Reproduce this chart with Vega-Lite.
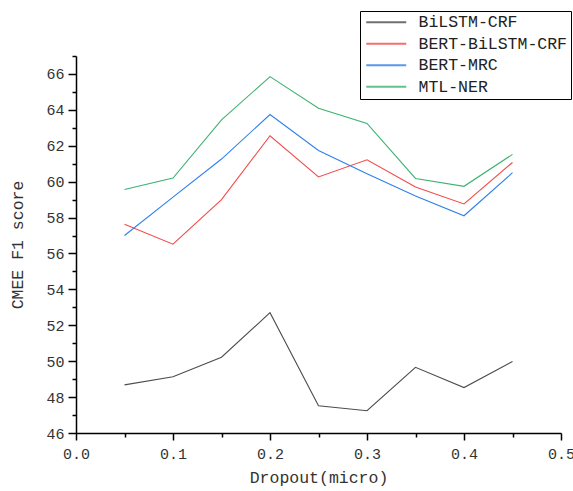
{
  "$schema": "https://vega.github.io/schema/vega-lite/v6.json",
  "width": 485,
  "height": 377,
  "autosize": {"type": "none"},
  "padding": {"left": 76, "top": 56, "right": 12, "bottom": 58},
  "background": "white",
  "config": {
    "view": {"stroke": null},
    "font": "Liberation Mono",
    "axis": {"grid": false, "domainColor": "#000", "domainWidth": 1.5, "tickColor": "#000", "tickWidth": 1.5, "labelColor": "#333", "titleColor": "#333", "labelFont": "Liberation Mono", "titleFont": "Liberation Mono", "labelFontSize": 15, "titleFontSize": 16.5, "titleFontWeight": "normal"}
  },
  "data": {"values": [
    {"model": "BiLSTM-CRF", "dropout": 0.05, "f1": 48.68},
    {"model": "BiLSTM-CRF", "dropout": 0.10, "f1": 49.13},
    {"model": "BiLSTM-CRF", "dropout": 0.15, "f1": 50.22},
    {"model": "BiLSTM-CRF", "dropout": 0.20, "f1": 52.70},
    {"model": "BiLSTM-CRF", "dropout": 0.25, "f1": 47.52},
    {"model": "BiLSTM-CRF", "dropout": 0.30, "f1": 47.24},
    {"model": "BiLSTM-CRF", "dropout": 0.35, "f1": 49.66},
    {"model": "BiLSTM-CRF", "dropout": 0.40, "f1": 48.53},
    {"model": "BiLSTM-CRF", "dropout": 0.45, "f1": 49.98},
    {"model": "BERT-BiLSTM-CRF", "dropout": 0.05, "f1": 57.63},
    {"model": "BERT-BiLSTM-CRF", "dropout": 0.10, "f1": 56.52},
    {"model": "BERT-BiLSTM-CRF", "dropout": 0.15, "f1": 59.00},
    {"model": "BERT-BiLSTM-CRF", "dropout": 0.20, "f1": 62.56},
    {"model": "BERT-BiLSTM-CRF", "dropout": 0.25, "f1": 60.26},
    {"model": "BERT-BiLSTM-CRF", "dropout": 0.30, "f1": 61.22},
    {"model": "BERT-BiLSTM-CRF", "dropout": 0.35, "f1": 59.70},
    {"model": "BERT-BiLSTM-CRF", "dropout": 0.40, "f1": 58.76},
    {"model": "BERT-BiLSTM-CRF", "dropout": 0.45, "f1": 61.07},
    {"model": "BERT-MRC", "dropout": 0.05, "f1": 57.00},
    {"model": "BERT-MRC", "dropout": 0.10, "f1": 59.14},
    {"model": "BERT-MRC", "dropout": 0.15, "f1": 61.26},
    {"model": "BERT-MRC", "dropout": 0.20, "f1": 63.74},
    {"model": "BERT-MRC", "dropout": 0.25, "f1": 61.74},
    {"model": "BERT-MRC", "dropout": 0.30, "f1": 60.44},
    {"model": "BERT-MRC", "dropout": 0.35, "f1": 59.20},
    {"model": "BERT-MRC", "dropout": 0.40, "f1": 58.10},
    {"model": "BERT-MRC", "dropout": 0.45, "f1": 60.50},
    {"model": "MTL-NER", "dropout": 0.05, "f1": 59.56},
    {"model": "MTL-NER", "dropout": 0.10, "f1": 60.20},
    {"model": "MTL-NER", "dropout": 0.15, "f1": 63.44},
    {"model": "MTL-NER", "dropout": 0.20, "f1": 65.85},
    {"model": "MTL-NER", "dropout": 0.25, "f1": 64.09},
    {"model": "MTL-NER", "dropout": 0.30, "f1": 63.24},
    {"model": "MTL-NER", "dropout": 0.35, "f1": 60.18},
    {"model": "MTL-NER", "dropout": 0.40, "f1": 59.74},
    {"model": "MTL-NER", "dropout": 0.45, "f1": 61.52}
  ]},
  "layer": [
    {
      "mark": {"type": "line", "strokeWidth": 1.1},
      "encoding": {
        "x": {"field": "dropout", "type": "quantitative", "scale": {"domain": [0, 0.5], "nice": false, "zero": false},
          "axis": {"orient": "bottom", "values": [0, 0.1, 0.2, 0.3, 0.4, 0.5], "format": ".1f", "tickSize": 7, "labelPadding": 6, "title": "Dropout(micro)", "titlePadding": 8, "labelFlush": false}},
        "y": {"field": "f1", "type": "quantitative", "scale": {"domain": [46, 67], "nice": false, "zero": false},
          "axis": {"orient": "left", "values": [46, 48, 50, 52, 54, 56, 58, 60, 62, 64, 66], "tickSize": 8, "labelPadding": 4, "title": "CMEE F1 score", "titlePadding": 20, "labelFlush": false}},
        "color": {"field": "model", "type": "nominal",
          "scale": {"domain": ["BiLSTM-CRF", "BERT-BiLSTM-CRF", "BERT-MRC", "MTL-NER"], "range": ["#4d4d4d", "#f44a4a", "#2f80ed", "#3cb371"]},
          "legend": {"title": null, "orient": "none", "legendX": 284, "legendY": -45, "strokeColor": "#000", "fillColor": "white", "padding": 3, "symbolType": "M-1,0H7", "symbolSize": 100, "symbolStrokeWidth": 2, "symbolOpacity": 0.8, "labelFont": "Liberation Mono", "labelFontSize": 16.5, "labelColor": "#222", "labelOffset": 39, "rowPadding": 4.5, "labelLimit": 300}}
      }
    },
    {
      "mark": {"type": "line", "strokeOpacity": 0},
      "encoding": {
        "x": {"field": "dropout", "type": "quantitative", "scale": {"domain": [0, 0.5], "nice": false, "zero": false},
          "axis": {"orient": "bottom", "values": [0.05, 0.15, 0.25, 0.35, 0.45], "labels": false, "domain": false, "tickSize": 4, "title": null}},
        "y": {"field": "f1", "type": "quantitative", "scale": {"domain": [46, 67], "nice": false, "zero": false},
          "axis": {"orient": "left", "values": [47, 49, 51, 53, 55, 57, 59, 61, 63, 65, 67], "labels": false, "domain": false, "tickSize": 4, "title": null}},
        "detail": {"field": "model", "type": "nominal"}
      }
    }
  ],
  "resolve": {"axis": {"x": "independent", "y": "independent"}}
}
